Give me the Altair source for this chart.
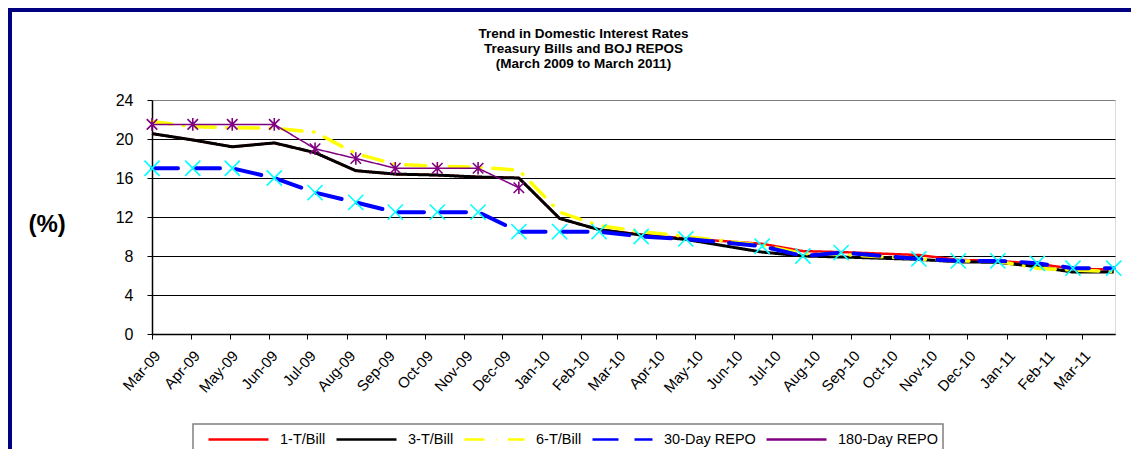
import altair as alt
import pandas as pd

# ---------------- data ----------------
dates = ["2009-03-01", "2009-04-02", "2009-05-03", "2009-06-05", "2009-07-07",
         "2009-08-08", "2009-09-08", "2009-10-11", "2009-11-12", "2009-12-14",
         "2010-01-15", "2010-02-15", "2010-03-20", "2010-04-24", "2010-06-23",
         "2010-07-25", "2010-08-24", "2010-10-24", "2010-11-24", "2010-12-25",
         "2011-01-25", "2011-02-22", "2011-03-26"]

tbill_1 = [20.55, 19.9, 19.2, 19.6, 18.6, 16.75, 16.4, 16.3, 16.1, 16.0,
           11.85, 10.7, 10.2, 9.8, 9.25, 8.5, 8.4, 8.1, 7.6, 7.5, 7.2, 6.7, 6.6]
tbill_3 = [20.55, 19.9, 19.2, 19.6, 18.6, 16.75, 16.4, 16.3, 16.1, 16.0,
           11.85, 10.7, 10.15, 9.7, 8.4, 8.0, 7.9, 7.65, 7.4, 7.35, 6.9, 6.35, 6.35]
tbill_6 = [21.8, 21.25, 21.15, 21.1, 20.7, 18.5, 17.4, 17.2, 17.1, 16.8,
           12.5, 11.1, 10.5, 10.0, 9.1, 8.25, 8.15, 7.7, 7.5, 7.45, 6.75, 6.55, 6.4]
repo_30 = [17.0, 17.0, 17.0, 16.0, 14.5, 13.5, 12.5, 12.5, 12.5, 10.5,
           10.5, 10.5, 10.0, 9.75, 9.0, 8.0, 8.35, 7.7, 7.5, 7.5, 7.25, 6.75, 6.75]
repo_180 = [21.5, 21.5, 21.5, 21.5, 19.0, 18.0, 17.0, 17.0, 17.0, 15.0] + [None] * 13

series_names = ["1-T/Bill", "3-T/Bill", "6-T/Bill", "30-Day REPO", "180-Day REPO"]
series_values = [tbill_1, tbill_3, tbill_6, repo_30, repo_180]
series_colors = ["#FF0000", "#000000", "#FFFF00", "#0000FF", "#800080"]
series_dashes = [[1, 0], [1, 0], [20, 11.5, 0.5, 11.5], [26, 16], [1, 0]]

tick_months = [(2009, m) for m in range(3, 13)] + [(2010, m) for m in range(1, 13)] + [(2011, m) for m in range(1, 4)]
y_ticks = [0, 4, 8, 12, 16, 20, 24]

title_lines = ["Trend in Domestic Interest Rates",
               "Treasury Bills and BOJ REPOS",
               "(March 2009 to March 2011)"]

rows = []
for name, vals in zip(series_names, series_values):
    for d, v in zip(dates, vals):
        if v is not None:
            rows.append({"date": d, "value": v, "series": name})
df = pd.DataFrame(rows)

# ---------------- layout ----------------
W, H = 963, 234
PAD_L, PAD_T, PAD_R, PAD_B = 144, 92, 16, 115
FONT = "Liberation Sans"

x_enc = alt.X(
    "date:T",
    scale=alt.Scale(type="utc",
                    domain=[alt.DateTime(year=2009, month=3, date=1, utc=True),
                            alt.DateTime(year=2011, month=3, date=27, utc=True)]),
    axis=alt.Axis(
        values=[alt.DateTime(year=y, month=m, date=1, utc=True) for y, m in tick_months],
        format="%b-%y", labelAngle=-48, labelAlign="right", labelBaseline="top",
        labelFontSize=15, labelPadding=9, labelOverlap=False, labelFlush=False,
        tickSize=5, tickColor="black", domainColor="black", domainWidth=1.5,
        grid=False, title=None, labelColor="black", labelFont=FONT),
)
y_enc = alt.Y(
    "value:Q",
    scale=alt.Scale(domain=[0, 24], nice=False),
    axis=alt.Axis(
        values=y_ticks, title="(%)", titleAngle=0, titleX=-124, titleY=124,
        titleAlign="left", titleBaseline="middle", titleFontSize=24,
        titleFontWeight="bold", titleFont=FONT, titleColor="black",
        labelFontSize=16, labelPadding=14, labelFont=FONT, labelColor="black",
        tickSize=5, tickColor="black", domainColor="black", domainWidth=1.5,
        grid=True, gridWidth=1,
        gridColor={"condition": {"test": "datum.value === 24", "value": "#808080"},
                   "value": "black"}),
)

legend = alt.Legend(
    title=None, orient="none", legendX=55, legendY=308, direction="horizontal",
    symbolType="stroke", symbolSize=3600, symbolStrokeWidth=2.5,
    labelFontSize=14.5, labelFont=FONT, labelColor="black", labelOffset=10,
    columnPadding=5, padding=0,
)
color_enc = alt.Color("series:N", scale=alt.Scale(domain=series_names, range=series_colors), legend=legend)
dash_enc = alt.StrokeDash("series:N", scale=alt.Scale(domain=series_names, range=series_dashes), legend=legend)

base = alt.Chart(df)


def line_layer(name, width, cap="butt"):
    return base.transform_filter(alt.datum.series == name).mark_line(
        strokeWidth=width, strokeCap=cap, strokeJoin="round"
    ).encode(x=x_enc, y=y_enc, color=color_enc, strokeDash=dash_enc)


X_SHAPE = "M-1,-1L1,1M-1,1L1,-1"
STAR_SHAPE = "M-1,-1L1,1M-1,1L1,-1M0,-1.2L0,1.2"

repo30_points = base.transform_filter(alt.datum.series == "30-Day REPO").mark_point(
    shape=X_SHAPE, size=230, filled=False, stroke="#00FFFF", strokeWidth=1.6, opacity=1
).encode(x=x_enc, y=y_enc)

repo180_points = base.transform_filter(alt.datum.series == "180-Day REPO").mark_point(
    shape=STAR_SHAPE, size=110, filled=False, stroke="#800080", strokeWidth=1.6, opacity=1
).encode(x=x_enc, y=y_enc)

one_row = pd.DataFrame({"f": [0]})

# outer navy frame (top and left edges visible, the rest runs off the canvas)
frame = alt.Chart(one_row).mark_rect(
    fill=None, stroke="#000080", strokeWidth=4
).encode(
    x=alt.value(-PAD_L + 2), x2=alt.value(W + PAD_R + 20),
    y=alt.value(-PAD_T + 2), y2=alt.value(H + PAD_B + 20),
)

# legend box (its bottom edge runs off the canvas, as in the reference)
legend_box = alt.Chart(one_row).mark_rect(
    fill="white", stroke="#808080", strokeWidth=1.5
).encode(
    x=alt.value(41), x2=alt.value(791), y=alt.value(324), y2=alt.value(362),
)

chart = alt.layer(
    line_layer("1-T/Bill", 2.5),
    line_layer("3-T/Bill", 3),
    line_layer("6-T/Bill", 3.5, "round"),
    line_layer("30-Day REPO", 4, "round"),
    repo30_points,
    line_layer("180-Day REPO", 1.5),
    repo180_points,
    legend_box,
    frame,
).properties(
    width=W, height=H,
    title=alt.TitleParams(text=title_lines, fontSize=13.5, fontWeight="bold", font=FONT,
                          lineHeight=15, anchor="middle", frame="group", dx=-50,
                          offset=0, dy=62, color="black"),
    autosize=alt.AutoSizeParams(type="none"),
    padding={"left": PAD_L, "top": PAD_T, "right": PAD_R, "bottom": PAD_B},
    background="white",
).configure_view(
    fill="#C0C0C0", stroke="#808080", strokeWidth=2
).configure(font=FONT)

chart.save("out.html", embed_options={"renderer": "svg", "actions": False})
